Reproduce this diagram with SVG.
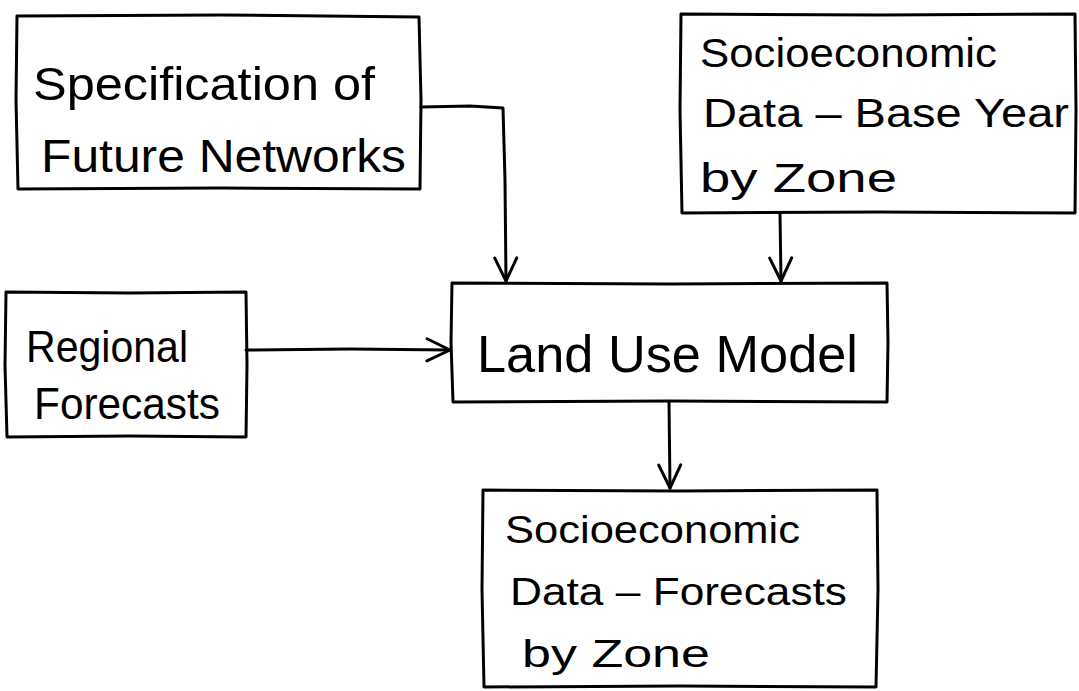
<svg xmlns="http://www.w3.org/2000/svg" width="1079" height="691" viewBox="0 0 1079 691">
  <style>
    .box { fill: none; stroke: #000; stroke-width: 3; stroke-linejoin: round; stroke-linecap: round; }
    .edge { fill: none; stroke: #000; stroke-width: 3; stroke-linejoin: round; stroke-linecap: round; }
    .label { font-family: "Liberation Sans", "DejaVu Sans", sans-serif; fill: #000; }
  </style>
  <defs>
    <!-- open hand-drawn chevron head -->
    <marker id="head" markerUnits="userSpaceOnUse" viewBox="0 0 28 28" refX="26" refY="14" markerWidth="28" markerHeight="28" orient="auto">
      <path d="M3,3 L26,14 L3,25" fill="none" stroke="#000" stroke-width="3" stroke-linecap="round" stroke-linejoin="round"/>
    </marker>
  </defs>
  <rect width="1079" height="691" fill="#fff"/>

  <g id="connectors">
    <path class="edge" d="M421,107 L470,106 L503,108 L505,180 L506,281" marker-end="url(#head)"/>
    <path class="edge" d="M780,213 L781,281" marker-end="url(#head)"/>
    <path class="edge" d="M246,350 L350,349 L450,350" marker-end="url(#head)"/>
    <path class="edge" d="M669,402 L670,488" marker-end="url(#head)"/>
  </g>

  <g id="future-networks">
    <path class="box" d="M17,16 L220,15 L419,17 L421,100 L420,189 L220,188 L18,189 L16,100 Z"/>
    <text class="label" x="33" y="100" font-size="46" textLength="342" lengthAdjust="spacingAndGlyphs">Specification of</text>
    <text class="label" x="41" y="172" font-size="46" textLength="365" lengthAdjust="spacingAndGlyphs">Future Networks</text>
  </g>

  <g id="base-year-data">
    <path class="box" d="M681,14 L880,15 L1075,14 L1076,110 L1075,213 L880,212 L682,213 L680,110 Z"/>
    <text class="label" x="700" y="67" font-size="40" textLength="297" lengthAdjust="spacingAndGlyphs">Socioeconomic</text>
    <text class="label" x="703" y="127" font-size="40" textLength="366" lengthAdjust="spacingAndGlyphs">Data – Base Year</text>
    <text class="label" x="700" y="192" font-size="40" textLength="197" lengthAdjust="spacingAndGlyphs">by Zone</text>
  </g>

  <g id="regional-forecasts">
    <path class="box" d="M6,292 L130,293 L246,292 L247,365 L246,437 L130,436 L7,437 L5,365 Z"/>
    <text class="label" x="26" y="362" font-size="44" textLength="162" lengthAdjust="spacingAndGlyphs">Regional</text>
    <text class="label" x="34" y="419" font-size="44" textLength="186" lengthAdjust="spacingAndGlyphs">Forecasts</text>
  </g>

  <g id="land-use-model">
    <path class="box" d="M452,283 L670,284 L887,283 L888,342 L887,402 L670,401 L453,402 L451,342 Z"/>
    <text class="label" x="477" y="372" font-size="52" textLength="381" lengthAdjust="spacingAndGlyphs">Land Use Model</text>
  </g>

  <g id="forecast-data">
    <path class="box" d="M483,490 L680,491 L877,490 L878,590 L876,687 L680,686 L484,687 L482,590 Z"/>
    <text class="label" x="505" y="543" font-size="38" textLength="295" lengthAdjust="spacingAndGlyphs">Socioeconomic</text>
    <text class="label" x="510" y="605" font-size="38" textLength="337" lengthAdjust="spacingAndGlyphs">Data – Forecasts</text>
    <text class="label" x="522" y="667" font-size="38" textLength="188" lengthAdjust="spacingAndGlyphs">by Zone</text>
  </g>
</svg>
